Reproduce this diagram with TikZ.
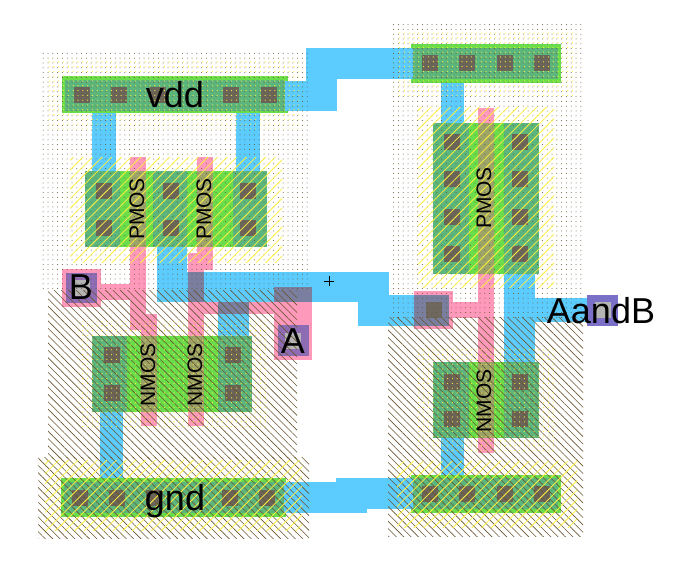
\documentclass[tikz,border=0pt]{standalone}
\usepackage{fontspec}
\setmainfont{Liberation Sans}
\usetikzlibrary{patterns.meta}
\definecolor{metalc}{HTML}{5CCCFF}
\definecolor{polyc}{HTML}{FF99BB}
\definecolor{diffc}{HTML}{6ADD4A}
\definecolor{tealc}{HTML}{5CB57C}
\definecolor{olivec}{HTML}{9CA468}
\definecolor{mpc}{HTML}{7A7FA0}
\definecolor{contc}{HTML}{6B6458}
\definecolor{labc}{HTML}{8E6CB4}
\definecolor{lab2c}{HTML}{7A70C8}
\definecolor{greyc}{HTML}{B4B4B4}
\definecolor{brownc}{HTML}{6A5630}
\definecolor{yelc}{HTML}{FFF040}
\tikzset{
  metal/.style={fill=metalc},
  poly/.style={fill=polyc},
  diffu/.style={fill=diffc},
  teal/.style={fill=tealc},
  olive/.style={fill=olivec},
  mp/.style={fill=mpc},
  cont/.style={fill=contc},
  nwell/.style={pattern={Dots[distance=4.8pt,radius=.5pt]},pattern color=brownc},
  pwell/.style={pattern={Lines[angle=-45,distance=5.2pt,line width=.6pt]},pattern color=brownc},
  nsel/.style={pattern={Dots[distance=4.8pt,radius=.6pt,xshift=1.2pt,yshift=1.2pt]},pattern color=yelc},
  psel/.style={pattern={Lines[angle=45,distance=6.8pt,line width=.8pt]},pattern color=yelc},
  big/.style={font=\fontsize{36}{36}\selectfont,text=black,inner sep=0pt,anchor=base},
  small/.style={font=\fontsize{21}{21}\selectfont,text=black,inner sep=0pt,rotate=90},
}
\newcommand{\R}[5]{\path[#1] (#2,#3) rectangle (#4,#5);}
\newcommand{\C}[2]{\path[cont] (#1,#2) rectangle ++(16,16);}
\begin{document}
\begin{tikzpicture}[x=1pt,y=-1pt]
\useasboundingbox (0,0) rectangle (698,567);
% diffusion
\R{diffu}{85}{171}{267}{247}
\R{diffu}{92}{336}{252}{412}
\R{diffu}{433}{123}{539}{274}
\R{diffu}{433}{362}{539}{438}
\R{diffu}{62}{76}{288}{113}
\R{diffu}{411}{44}{561}{83}
\R{diffu}{61}{478}{286}{517}
\R{diffu}{411}{475}{561}{513}
% poly
\R{poly}{130}{157}{146}{330}
\R{poly}{130}{314}{157}{330}
\R{poly}{141}{314}{157}{426}
\R{poly}{101}{284}{146}{300}
\R{poly}{62}{269}{101}{307}
\R{poly}{197}{157}{213}{270}
\R{poly}{188}{253}{213}{270}
\R{poly}{188}{253}{204}{426}
\R{poly}{188}{302}{297}{314}
\R{poly}{274}{287}{312}{360}
\R{poly}{478}{108}{494}{453}
\R{poly}{453}{302}{494}{318}
\R{poly}{414}{291}{453}{329}
% metal
\R{metal}{92}{113}{116}{171}
\R{metal}{236}{113}{260}{171}
\R{metal}{285}{81}{337}{111}
\R{metal}{306}{48}{337}{111}
\R{metal}{306}{48}{413}{79}
\R{metal}{441}{83}{464}{123}
\R{metal}{157}{247}{187}{302}
\R{metal}{157}{272}{389}{302}
\R{metal}{358}{295}{414}{326}
\R{metal}{218}{302}{249}{336}
\R{metal}{100}{412}{123}{478}
\R{metal}{284}{482}{367}{513}
\R{metal}{336}{478}{413}{509}
\R{metal}{441}{438}{464}{475}
\R{metal}{504}{274}{535}{362}
\R{metal}{535}{298}{590}{322}
% overlaps
\R{teal}{65}{80}{285}{111}
\R{teal}{413}{48}{558}{79}
\R{teal}{64}{482}{284}{513}
\R{teal}{413}{478}{558}{509}
\R{teal}{85}{171}{120}{247}
\R{teal}{153}{171}{187}{247}
\R{teal}{233}{171}{267}{247}
\R{teal}{92}{336}{127}{412}
\R{teal}{218}{336}{252}{412}
\R{teal}{433}{123}{469}{274}
\R{teal}{504}{123}{539}{274}
\R{teal}{433}{362}{469}{438}
\R{teal}{504}{362}{539}{438}
\R{olive}{130}{171}{146}{247}
\R{olive}{197}{171}{213}{247}
\R{olive}{141}{336}{157}{412}
\R{olive}{188}{336}{204}{412}
\R{olive}{478}{123}{494}{274}
\R{olive}{478}{362}{494}{438}
\R{mp}{188}{272}{204}{302}
\R{mp}{274}{287}{312}{302}
\R{mp}{218}{302}{249}{314}
\R{mp}{414}{295}{449}{326}
% label pads
\path[fill=labc] (66,273) rectangle (97,303);
\path[fill=labc] (278,325) rectangle (309,356);
\path[fill=lab2c] (587,295) rectangle (618,326);
\path[fill=greyc] (74,280) rectangle (90,296);
\path[fill=greyc] (285,333) rectangle (301,349);
\path[fill=greyc] (595,302) rectangle (611,318);
\path[fill=contc!85!gray] (426,302) rectangle (442,318);
% contacts
\foreach \x in {74,111,150,223,261} {\C{\x}{87}}
\foreach \x in {422,459,497,534} {\C{\x}{55}\C{\x}{486}}
\foreach \x in {72,109,146,222,259} {\C{\x}{490}}
\foreach \x in {96,163,240} {\C{\x}{183}\C{\x}{220}}
\foreach \x in {444,512} {\C{\x}{134}\C{\x}{171}\C{\x}{209}\C{\x}{246}\C{\x}{374}\C{\x}{411}}
\foreach \x in {104,225} {\C{\x}{347}\C{\x}{385}}
% wells
\R{nwell}{42}{53}{311}{290}
\R{nwell}{390}{23}{583}{317}
\R{pwell}{48}{290}{297}{458}
\R{pwell}{38}{457}{309}{538}
\R{pwell}{388}{317}{583}{536}
% yellow select
\R{nsel}{47}{61}{303}{128}
\R{nsel}{398}{30}{577}{98}
\R{nsel}{78}{321}{267}{426}
\R{nsel}{418}{347}{554}{453}
\R{psel}{70}{157}{282}{262}
\R{psel}{418}{108}{554}{287}
\R{psel}{45}{460}{302}{530}
\R{psel}{397}{461}{577}{527}
% text
\node[big] (vdd) at (175,107) {vdd};
\node[big] (gnd) at (175,510) {gnd};
\node[big] (lblB) at (81,299) {B};
\node[big] (lblA) at (293,353) {A};
\node[big] (lblO) at (601,323) {AandB};
\node[small] (p1) at (137,209) {PMOS};
\node[small] (p2) at (204,209) {PMOS};
\node[small] (p3) at (484,198) {PMOS};
\node[small] (n1) at (148,375) {NMOS};
\node[small] (n2) at (195,375) {NMOS};
\node[small] (n3) at (484,401) {NMOS};
\draw[black,line width=.7pt] (324,281) -- (334,281) (329,276) -- (329,286);
\end{tikzpicture}
\end{document}
